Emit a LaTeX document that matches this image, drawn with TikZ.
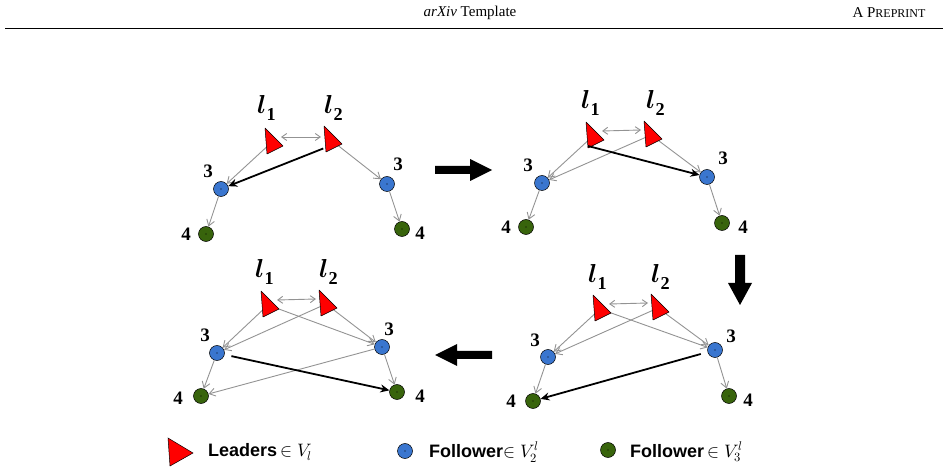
\documentclass[tikz,border=0pt]{standalone}
\usepackage{fontspec}
\setmainfont{Liberation Serif}
\newfontfamily\legfont{Liberation Sans}
\usepackage{unicode-math}
\setmathfont{Latin Modern Math}
\usetikzlibrary{arrows.meta}
\begin{document}
\begin{tikzpicture}[x=1pt,y=-1pt,
  gedge/.style={draw=gray!85,line width=0.9pt,-{Straight Barb[length=6pt,width=8pt]}},
  gdbl/.style={draw=gray!85,line width=0.9pt,{Straight Barb[length=5pt,width=7pt]}-{Straight Barb[length=5pt,width=7pt]}},
  bedge/.style={draw=black,line width=1.8pt,-{Stealth[length=9pt,width=8pt]}},
  bluen/.style={circle,draw=black,line width=0.5pt,fill={rgb,255:red,58;green,118;blue,207},minimum size=15pt,inner sep=0pt},
  greenn/.style={circle,draw=black,line width=0.5pt,fill={rgb,255:red,56;green,100;blue,12},minimum size=15pt,inner sep=0pt},
  lab/.style={font=\fontsize{19}{19}\selectfont\bfseries},
  llab/.style={font=\fontsize{26}{26}\selectfont},
  legt/.style={anchor=west,font=\legfont\fontsize{18}{18}\selectfont\bfseries,inner sep=0pt},
  bigarrow/.style={fill=black}]
\useasboundingbox (0,0) rectangle (948,470);
\newcommand\leader[3]{\coordinate (#1) at (#2,#3);
  \filldraw[fill=red,draw=black,line width=0.5pt,line join=round] (#2-7,#3-14) -- (#2-5,#3+12) -- (#2+11,#3+4) -- cycle;}
\newcommand\fdot[1]{\fill[black] (#1) circle (0.6pt);}
\newcommand\lone{$\symbfit{l}_{\mathbf{1}}$}
\newcommand\ltwo{$\symbfit{l}_{\mathbf{2}}$}
% header
\node[font=\fontsize{15}{15}\selectfont] (hd) at (470,13) {\textit{arXiv} Template};
\node[font=\fontsize{15}{15}\selectfont,anchor=east] (hp) at (929,13) {A P\fontsize{12}{12}\selectfont REPRINT};
\coordinate (hl1) at (5,28); \coordinate (hl2) at (943,28);
\draw[line width=0.8pt] (hl1) -- (hl2);
% ===== Panel 1
\node[bluen] (a3) at (221,189) {}; \node[greenn] (a4) at (206,234) {};
\node[bluen] (b3) at (387,184) {}; \node[greenn] (b4) at (402,229) {};
\coordinate (p1l1) at (272,142); \coordinate (p1l2) at (331,140);
\draw[gedge] (p1l1) -- (a3);
\draw[gedge] (p1l2) -- (b3);
\draw[gedge] (a3) -- (a4); \draw[gedge] (b3) -- (b4);
\leader{L1a}{272}{142}\leader{L2a}{331}{140}
\draw[bedge,shorten <=4pt] ([shift={(-4,7)}]L2a) -- (a3);
\draw[gdbl] ([shift={(9,-5)}]L1a) -- ([shift={(-10,-3)}]L2a);
\foreach \n in {a3,a4,b3,b4}{\fdot{\n}}
\node[llab] (t1a) at (267,108) {\lone}; \node[llab] (t2a) at (334,108) {\ltwo};
\node[lab] (n3a) at (208,171) {3}; \node[lab] (n4a) at (186,234) {4};
\node[lab] (n3b) at (398,164) {3}; \node[lab] (n4b) at (420,233) {4};
% ===== Panel 2
\node[bluen] (c3) at (542,183) {}; \node[greenn] (c4) at (526,227) {};
\node[bluen] (d3) at (707,177) {}; \node[greenn] (d4) at (722,223) {};
\draw[gedge] (593,136) -- (c3);
\draw[gedge] (651,135) -- (c3);
\draw[gedge] (651,135) -- (d3);
\draw[gedge] (c3) -- (c4); \draw[gedge] (d3) -- (d4);
\leader{L1b}{593}{136}\leader{L2b}{651}{135}
\draw[bedge] ([shift={(-5,10)}]L1b) -- (d3);
\draw[gdbl] ([shift={(9,-5)}]L1b) -- ([shift={(-10,-5)}]L2b);
\foreach \n in {c3,c4,d3,d4}{\fdot{\n}}
\node[llab] (t1b) at (591,103) {\lone}; \node[llab] (t2b) at (656,103) {\ltwo};
\node[lab] (n3c) at (528,165) {3}; \node[lab] (n4c) at (506,227) {4};
\node[lab] (n3d) at (723,158) {3}; \node[lab] (n4d) at (743,227) {4};
% ===== Panel 3 (bottom right)
\node[bluen] (e3) at (548,357) {}; \node[greenn] (e4) at (533,401) {};
\node[bluen] (f3) at (715,350) {}; \node[greenn] (f4) at (729,396) {};
\draw[gedge] (600,309) -- (e3);
\draw[gedge] (658,308) -- (e3);
\draw[gedge] (600,309) -- (f3);
\draw[gedge] (658,308) -- (f3);
\draw[gedge] (e3) -- (e4); \draw[gedge] (f3) -- (f4);
\leader{L1c}{600}{309}\leader{L2c}{658}{308}
\draw[bedge,shorten <=7pt] (f3) -- (e4);
\draw[gdbl] ([shift={(9,-5)}]L1c) -- ([shift={(-10,-5)}]L2c);
\foreach \n in {e3,e4,f3,f4}{\fdot{\n}}
\node[llab] (t1c) at (598,277) {\lone}; \node[llab] (t2c) at (661,277) {\ltwo};
\node[lab] (n3e) at (535,340) {3}; \node[lab] (n4e) at (511,401) {4};
\node[lab] (n3f) at (731,336) {3}; \node[lab] (n4f) at (748,400) {4};
% ===== Panel 4 (bottom left)
\node[bluen] (g3) at (217,353) {}; \node[greenn] (g4) at (201,396) {};
\node[bluen] (h3) at (382,347) {}; \node[greenn] (h4) at (397,392) {};
\draw[gedge] (268,305) -- (g3);
\draw[gedge] (326,304) -- (g3);
\draw[gedge] (268,305) -- (h3);
\draw[gedge] (326,304) -- (h3);
\draw[gedge] (g3) -- (g4); \draw[gedge] (h3) -- (h4);
\draw[gedge] (h3) -- (g4);
\leader{L1d}{268}{305}\leader{L2d}{326}{304}
\draw[bedge,shorten <=7pt] (g3) -- (h4);
\draw[gdbl] ([shift={(9,-5)}]L1d) -- ([shift={(-10,-5)}]L2d);
\foreach \n in {g3,g4,h3,h4}{\fdot{\n}}
\node[llab] (t1d) at (265,272) {\lone}; \node[llab] (t2d) at (329,272) {\ltwo};
\node[lab] (n3g) at (205,335) {3}; \node[lab] (n4g) at (178,398) {4};
\node[lab] (n3h) at (389,329) {3}; \node[lab] (n4h) at (420,396) {4};
% ===== Big arrows
\fill[bigarrow] (435,166) -- (470,166) -- (470,159) -- (492,170) -- (470,181) -- (470,174) -- (435,174) -- cycle;
\fill[bigarrow] (492,351) -- (457,351) -- (457,344) -- (435,355) -- (457,366) -- (457,359) -- (492,359) -- cycle;
\fill[bigarrow] (735,255) -- (745,255) -- (745,283) -- (752,283) -- (740,305) -- (728,283) -- (735,283) -- cycle;
% ===== Legend
\filldraw[fill=red,draw=black,line width=0.5pt] (168,438) -- (170,466) -- (193,453) -- cycle;
\node[legt] (lg1) at (208,452) {Leaders\,\mdseries$\in V_l$};
\node[bluen] (lgb) at (405,451) {}; \fdot{lgb}
\node[legt] (lg2) at (429,452) {Follower\mdseries$\in V_2^l$};
\node[greenn] (lgg) at (608,450) {}; \fdot{lgg}
\node[legt] (lg3) at (630,452) {Follower\,\mdseries$\in V_3^l$};
\end{tikzpicture}
\end{document}
